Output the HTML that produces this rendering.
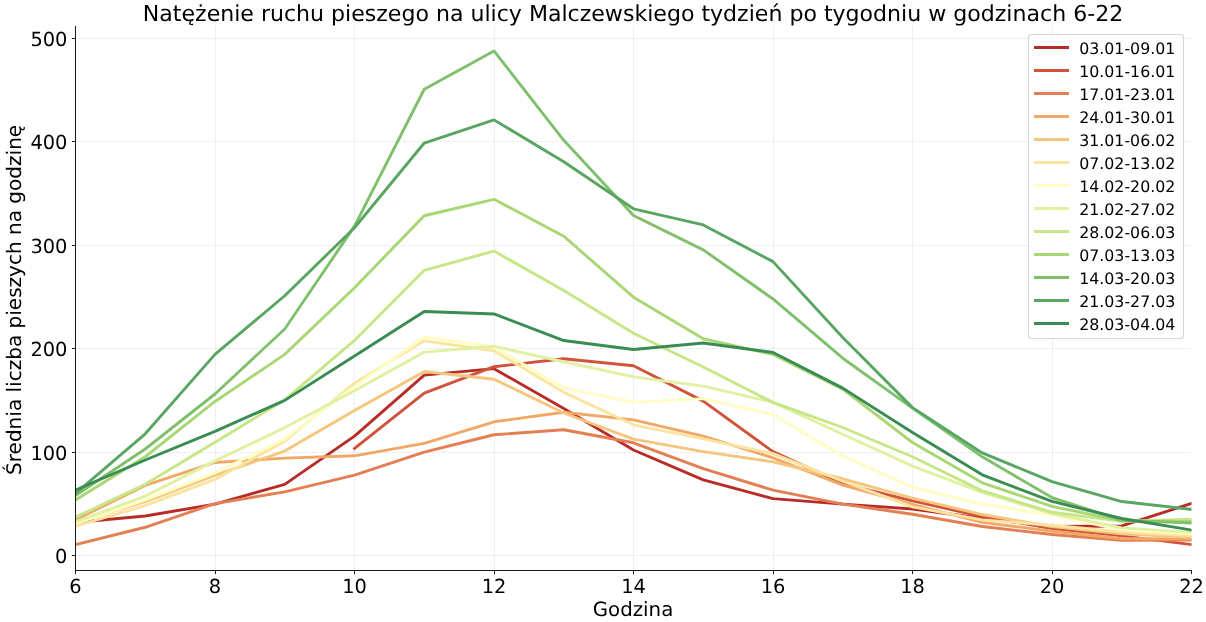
<!DOCTYPE html>
<html lang="pl"><head><meta charset="utf-8"><title>Natężenie ruchu pieszego</title>
<style>
html,body{margin:0;padding:0;background:#fff}
body{width:1206px;height:622px;overflow:hidden}
svg{display:block}
text{font-family:"DejaVu Sans","Liberation Sans",sans-serif;fill:#000;text-rendering:geometricPrecision}
.tk{font-size:19.4px}
.lg{font-size:15.8px}
.grid line{stroke:#b0b0b0;stroke-opacity:0.35;stroke-width:0.75;stroke-dasharray:3.1 0.9}
.ln{fill:none;stroke-width:2.9;stroke-linejoin:round;stroke-linecap:square}
</style></head><body>
<svg width="1206" height="622" viewBox="0 0 1206 622">
<rect width="1206" height="622" fill="#fff"/>
<clipPath id="ax"><rect x="75.5" y="26.0" width="1116.0" height="544.5"/></clipPath>

<g class="grid">
<line x1="215.5" y1="26.0" x2="215.5" y2="570.5"/>
<line x1="354.5" y1="26.0" x2="354.5" y2="570.5"/>
<line x1="494.5" y1="26.0" x2="494.5" y2="570.5"/>
<line x1="633.5" y1="26.0" x2="633.5" y2="570.5"/>
<line x1="773.5" y1="26.0" x2="773.5" y2="570.5"/>
<line x1="912.5" y1="26.0" x2="912.5" y2="570.5"/>
<line x1="1052.5" y1="26.0" x2="1052.5" y2="570.5"/>
<line x1="75.5" y1="555.5" x2="1191.5" y2="555.5"/>
<line x1="75.5" y1="452.5" x2="1191.5" y2="452.5"/>
<line x1="75.5" y1="348.5" x2="1191.5" y2="348.5"/>
<line x1="75.5" y1="245.5" x2="1191.5" y2="245.5"/>
<line x1="75.5" y1="141.5" x2="1191.5" y2="141.5"/>
<line x1="75.5" y1="38.5" x2="1191.5" y2="38.5"/>
</g>
<g clip-path="url(#ax)">
<path class="ln" stroke="#b82c28" d="M75.50 522.41 L145.25 516.00 L215.00 504.11 L284.75 484.36 L354.50 436.07 L424.25 375.07 L494.00 368.66 L563.75 408.57 L633.50 450.03 L703.25 479.91 L773.00 498.63 L842.75 504.11 L912.50 508.97 L982.25 518.28 L1052.00 526.55 L1121.75 525.93 L1191.50 503.39"/>
<path class="ln" stroke="#d1533b" d="M354.50 448.38 L424.25 393.06 L494.00 366.69 L563.75 358.73 L633.50 365.76 L703.25 401.12 L773.00 451.69 L842.75 483.64 L912.50 500.90 L982.25 516.52 L1052.00 528.62 L1121.75 535.85 L1191.50 544.54"/>
<path class="ln" stroke="#e47e53" d="M75.50 544.64 L145.25 527.27 L215.00 503.59 L284.75 491.91 L354.50 475.16 L424.25 452.20 L494.00 434.73 L563.75 429.77 L633.50 442.79 L703.25 468.64 L773.00 490.15 L842.75 504.11 L912.50 514.24 L982.25 526.55 L1052.00 534.51 L1121.75 540.20 L1191.50 539.99"/>
<path class="ln" stroke="#f1a867" d="M75.50 519.83 L145.25 485.39 L215.00 462.44 L284.75 458.10 L354.50 455.82 L424.25 443.41 L494.00 421.80 L563.75 412.29 L633.50 419.84 L703.25 436.07 L773.00 457.79 L842.75 485.19 L912.50 504.42 L982.25 522.41 L1052.00 531.20 L1121.75 538.54 L1191.50 538.96"/>
<path class="ln" stroke="#f5c67e" d="M75.50 522.41 L145.25 501.73 L215.00 475.47 L284.75 451.07 L354.50 410.53 L424.25 371.45 L494.00 379.20 L563.75 413.01 L633.50 439.18 L703.25 451.58 L773.00 461.92 L842.75 478.78 L912.50 498.11 L982.25 514.55 L1052.00 526.55 L1121.75 533.89 L1191.50 537.20"/>
<path class="ln" stroke="#fce4a0" d="M75.50 526.03 L145.25 505.66 L215.00 479.40 L284.75 441.14 L354.50 383.13 L424.25 340.84 L494.00 350.77 L563.75 392.33 L633.50 424.80 L703.25 438.86 L773.00 453.65 L842.75 481.05 L912.50 506.90 L982.25 519.83 L1052.00 525.20 L1121.75 531.92 L1191.50 535.85"/>
<path class="ln" stroke="#fefdc4" d="M75.50 523.45 L145.25 499.97 L215.00 472.78 L284.75 439.18 L354.50 386.44 L424.25 337.02 L494.00 347.05 L563.75 387.89 L633.50 402.36 L703.25 398.64 L773.00 414.67 L842.75 455.93 L912.50 487.26 L982.25 504.11 L1052.00 515.17 L1121.75 529.86 L1191.50 533.79"/>
<path class="ln" stroke="#e0f1a2" d="M75.50 521.89 L145.25 496.15 L215.00 460.89 L284.75 427.59 L354.50 390.78 L424.25 352.11 L494.00 346.32 L563.75 361.73 L633.50 376.93 L703.25 386.13 L773.00 402.36 L842.75 434.21 L912.50 466.06 L982.25 492.43 L1052.00 513.52 L1121.75 527.89 L1191.50 532.34"/>
<path class="ln" stroke="#c7e688" d="M75.50 517.24 L145.25 484.36 L215.00 442.28 L284.75 399.88 L354.50 340.43 L424.25 270.32 L494.00 251.09 L563.75 290.49 L633.50 333.19 L703.25 367.00 L773.00 402.36 L842.75 427.49 L912.50 456.75 L982.25 490.88 L1052.00 512.28 L1121.75 521.38 L1191.50 519.31"/>
<path class="ln" stroke="#a8d774" d="M75.50 499.97 L145.25 456.75 L215.00 401.43 L284.75 354.39 L354.50 287.69 L424.25 215.73 L494.00 199.29 L563.75 236.20 L633.50 297.21 L703.25 338.77 L773.00 354.49 L842.75 389.13 L912.50 442.48 L982.25 482.81 L1052.00 506.38 L1121.75 520.86 L1191.50 521.38"/>
<path class="ln" stroke="#80c06c" d="M75.50 495.53 L145.25 449.00 L215.00 393.99 L284.75 328.95 L354.50 226.17 L424.25 89.27 L494.00 50.91 L563.75 140.35 L633.50 215.52 L703.25 249.85 L773.00 298.96 L842.75 358.21 L912.50 408.15 L982.25 456.86 L1052.00 497.60 L1121.75 520.34 L1191.50 522.93"/>
<path class="ln" stroke="#58a662" d="M75.50 493.46 L145.25 433.80 L215.00 354.39 L284.75 295.76 L354.50 227.72 L424.25 143.04 L494.00 119.88 L563.75 161.75 L633.50 208.80 L703.25 224.93 L773.00 261.64 L842.75 337.53 L912.50 407.64 L982.25 452.93 L1052.00 481.57 L1121.75 501.53 L1191.50 509.38"/>
<path class="ln" stroke="#3a8c52" d="M75.50 490.05 L145.25 459.96 L215.00 431.42 L284.75 400.40 L354.50 355.94 L424.25 311.48 L494.00 313.96 L563.75 340.53 L633.50 349.53 L703.25 343.01 L773.00 352.53 L842.75 388.10 L912.50 432.45 L982.25 474.85 L1052.00 501.42 L1121.75 518.48 L1191.50 530.06"/>
</g>
<g stroke="#000" stroke-width="0.9" fill="none"><path d="M75.5 26.0 V571.05"/><path d="M74.95 570.5 H1192.05"/></g>
<g stroke="#000" stroke-width="0.9">
<line x1="75.5" y1="570.5" x2="75.5" y2="574.1"/>
<line x1="215.5" y1="570.5" x2="215.5" y2="574.1"/>
<line x1="354.5" y1="570.5" x2="354.5" y2="574.1"/>
<line x1="494.5" y1="570.5" x2="494.5" y2="574.1"/>
<line x1="633.5" y1="570.5" x2="633.5" y2="574.1"/>
<line x1="773.5" y1="570.5" x2="773.5" y2="574.1"/>
<line x1="912.5" y1="570.5" x2="912.5" y2="574.1"/>
<line x1="1052.5" y1="570.5" x2="1052.5" y2="574.1"/>
<line x1="1191.5" y1="570.5" x2="1191.5" y2="574.1"/>
<line x1="75.5" y1="555.5" x2="71.9" y2="555.5"/>
<line x1="75.5" y1="452.5" x2="71.9" y2="452.5"/>
<line x1="75.5" y1="348.5" x2="71.9" y2="348.5"/>
<line x1="75.5" y1="245.5" x2="71.9" y2="245.5"/>
<line x1="75.5" y1="141.5" x2="71.9" y2="141.5"/>
<line x1="75.5" y1="38.5" x2="71.9" y2="38.5"/>
</g>
<rect x="1028.5" y="34.5" width="155" height="304" rx="3" ry="3" fill="#fff" fill-opacity="0.8" stroke="#ccc" stroke-opacity="0.8" stroke-width="1.1"/>
<line x1="1034" y1="47.50" x2="1069" y2="47.50" stroke="#b82c28" stroke-width="2.9"/>
<line x1="1034" y1="70.50" x2="1069" y2="70.50" stroke="#d1533b" stroke-width="2.9"/>
<line x1="1034" y1="93.50" x2="1069" y2="93.50" stroke="#e47e53" stroke-width="2.9"/>
<line x1="1034" y1="116.50" x2="1069" y2="116.50" stroke="#f1a867" stroke-width="2.9"/>
<line x1="1034" y1="139.50" x2="1069" y2="139.50" stroke="#f5c67e" stroke-width="2.9"/>
<line x1="1034" y1="162.50" x2="1069" y2="162.50" stroke="#fce4a0" stroke-width="2.9"/>
<line x1="1034" y1="185.50" x2="1069" y2="185.50" stroke="#fefdc4" stroke-width="2.9"/>
<line x1="1034" y1="208.50" x2="1069" y2="208.50" stroke="#e0f1a2" stroke-width="2.9"/>
<line x1="1034" y1="231.50" x2="1069" y2="231.50" stroke="#c7e688" stroke-width="2.9"/>
<line x1="1034" y1="254.50" x2="1069" y2="254.50" stroke="#a8d774" stroke-width="2.9"/>
<line x1="1034" y1="277.50" x2="1069" y2="277.50" stroke="#80c06c" stroke-width="2.9"/>
<line x1="1034" y1="300.50" x2="1069" y2="300.50" stroke="#58a662" stroke-width="2.9"/>
<line x1="1034" y1="323.50" x2="1069" y2="323.50" stroke="#3a8c52" stroke-width="2.9"/>
<g style="filter:grayscale(1)">
<text class="tk" x="75.50" y="592.8" text-anchor="middle">6</text>
<text class="tk" x="215.00" y="592.8" text-anchor="middle">8</text>
<text class="tk" x="354.50" y="592.8" text-anchor="middle">10</text>
<text class="tk" x="494.00" y="592.8" text-anchor="middle">12</text>
<text class="tk" x="633.50" y="592.8" text-anchor="middle">14</text>
<text class="tk" x="773.00" y="592.8" text-anchor="middle">16</text>
<text class="tk" x="912.50" y="592.8" text-anchor="middle">18</text>
<text class="tk" x="1052.00" y="592.8" text-anchor="middle">20</text>
<text class="tk" x="1191.50" y="592.8" text-anchor="middle">22</text>
<text class="tk" x="67.4" y="563.10" text-anchor="end">0</text>
<text class="tk" x="67.4" y="460.10" text-anchor="end">100</text>
<text class="tk" x="67.4" y="356.10" text-anchor="end">200</text>
<text class="tk" x="67.4" y="253.10" text-anchor="end">300</text>
<text class="tk" x="67.4" y="149.10" text-anchor="end">400</text>
<text class="tk" x="67.4" y="46.10" text-anchor="end">500</text>
<text x="633" y="20.6" font-size="22.07" text-anchor="middle">Natężenie ruchu pieszego na ulicy Malczewskiego tydzień po tygodniu w godzinach 6-22</text>
<text x="633" y="615.5" font-size="19.8" text-anchor="middle">Godzina</text>
<text transform="translate(21.2 299.9) rotate(-90)" font-size="20.05" text-anchor="middle">Średnia liczba pieszych na godzinę</text>
<text class="lg" x="1079.2" y="54.00">03.01-09.01</text>
<text class="lg" x="1079.2" y="77.00">10.01-16.01</text>
<text class="lg" x="1079.2" y="100.00">17.01-23.01</text>
<text class="lg" x="1079.2" y="123.00">24.01-30.01</text>
<text class="lg" x="1079.2" y="146.00">31.01-06.02</text>
<text class="lg" x="1079.2" y="169.00">07.02-13.02</text>
<text class="lg" x="1079.2" y="192.00">14.02-20.02</text>
<text class="lg" x="1079.2" y="215.00">21.02-27.02</text>
<text class="lg" x="1079.2" y="238.00">28.02-06.03</text>
<text class="lg" x="1079.2" y="261.00">07.03-13.03</text>
<text class="lg" x="1079.2" y="284.00">14.03-20.03</text>
<text class="lg" x="1079.2" y="307.00">21.03-27.03</text>
<text class="lg" x="1079.2" y="330.00">28.03-04.04</text>
</g>
</svg></body></html>
